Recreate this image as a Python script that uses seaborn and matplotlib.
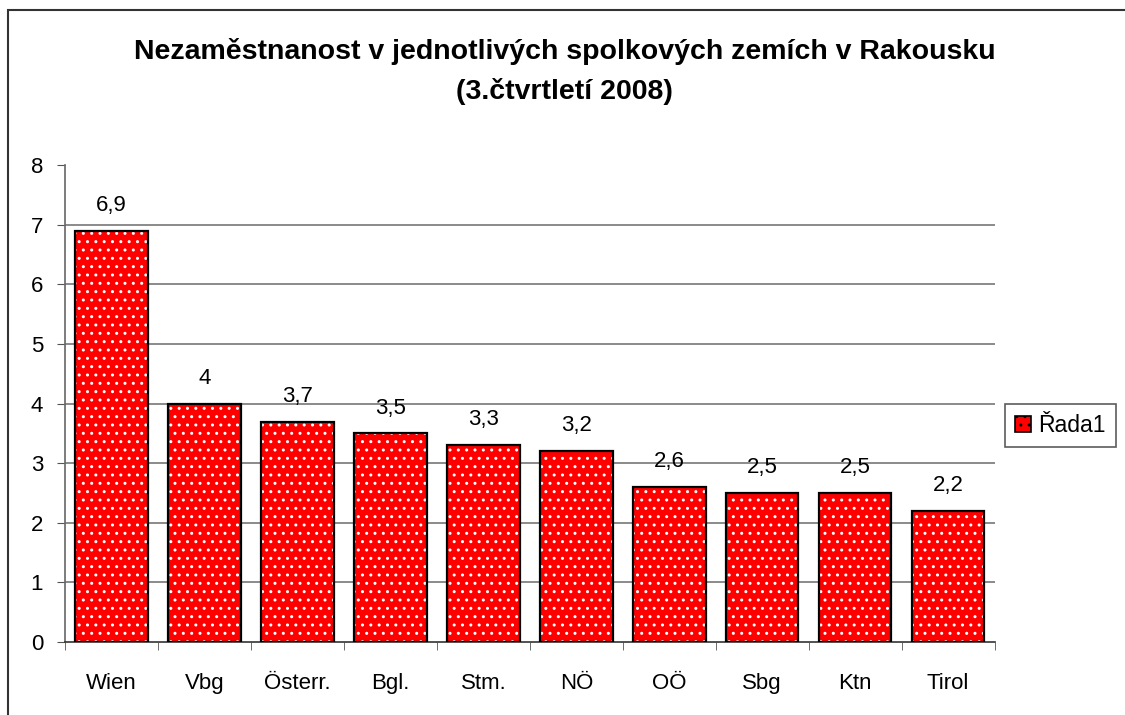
import numpy as np
import pandas as pd
import seaborn as sns
import matplotlib.pyplot as plt
from matplotlib.patches import Rectangle

# data
regions = ['Wien', 'Vbg', 'Österr.', 'Bgl.', 'Stm.', 'NÖ', 'OÖ', 'Sbg', 'Ktn', 'Tirol']
values = [6.9, 4.0, 3.7, 3.5, 3.3, 3.2, 2.6, 2.5, 2.5, 2.2]
labels = ['6,9', '4', '3,7', '3,5', '3,3', '3,2', '2,6', '2,5', '2,5', '2,2']
yticks = [0, 1, 2, 3, 4, 5, 6, 7, 8]

df = pd.DataFrame({'region': regions, 'value': values})

sns.set_style('white')
plt.rcParams['font.family'] = ['Liberation Sans', 'DejaVu Sans']
plt.rcParams['text.color'] = 'black'
plt.rcParams['xtick.color'] = 'black'
plt.rcParams['ytick.color'] = 'black'
plt.rcParams['hatch.linewidth'] = 1.0

fs = 16

fig = plt.figure(figsize=(11.25, 7.15), dpi=100)
ax = fig.add_axes([0.058, 0.102, 0.826, 0.667])

# red fill with white dots, then black outline on top
sns.barplot(data=df, x='region', y='value', color='red', saturation=1,
            width=0.78, edgecolor='white', linewidth=0, hatch='..', ax=ax, zorder=2)
for p in ax.patches:
    p.set_facecolor('red')
sns.barplot(data=df, x='region', y='value', fill=False, saturation=1,
            width=0.78, edgecolor='black', linewidth=1.6, ax=ax, zorder=3)

for i, lab in enumerate(labels):
    ax.text(i, values[i] + 0.25, lab, ha='center', va='bottom', fontsize=fs)

ax.set_ylim(0, 8)
ax.set_xlim(-0.5, len(regions) - 0.5)
ax.set_yticks(yticks)
ax.set_yticklabels([str(t) for t in yticks], fontsize=fs)
ax.set_xticks(range(len(regions)))
ax.set_xticklabels(regions, fontsize=fs)
ax.tick_params(axis='x', length=0, pad=22)
ax.tick_params(axis='y', length=6, color='#555555', left=True, pad=10)
# minor ticks between categories on x axis
ax.set_xticks(np.arange(-0.5, len(regions), 1), minor=True)
ax.tick_params(axis='x', which='minor', length=6, color='#555555', bottom=True)
for y in yticks[1:-1]:
    ax.axhline(y, color='#777777', lw=1.2, zorder=1)
ax.set_xlabel('')
ax.set_ylabel('')
for s in ['top', 'right']:
    ax.spines[s].set_visible(False)
ax.spines['left'].set_color('#666666')
ax.spines['bottom'].set_color('#333333')
ax.spines['left'].set_linewidth(1.2)
ax.spines['bottom'].set_linewidth(1.2)

fig.text(0.502, 0.928, 'Nezaměstnanost v jednotlivých spolkových zemích v Rakousku',
         ha='center', va='center', fontsize=20.5, fontweight='bold')
fig.text(0.502, 0.872, '(3.čtvrtletí 2008)',
         ha='center', va='center', fontsize=20.5, fontweight='bold')

# outer chart border
fig.patches.append(Rectangle((8 / 1125, -0.1), 1.2, 1.1 - 10 / 715, transform=fig.transFigure,
                             fill=False, edgecolor='#333333', lw=1.5))

handle = Rectangle((0, 0), 1, 1, facecolor='red', edgecolor='black', hatch='..', lw=1.2)
leg = fig.legend([handle], ['Řada1'], loc='center left', bbox_to_anchor=(0.883, 0.405),
                 fontsize=fs + 0.5, frameon=True, fancybox=False, handlelength=0.7,
                 handleheight=0.7, handletextpad=0.3, borderpad=0.45)
leg.get_frame().set_edgecolor('#333333')
leg.get_frame().set_linewidth(1.2)
leg.legend_handles[0].set_edgecolor('black')

fig.savefig('out.png', dpi=100)
